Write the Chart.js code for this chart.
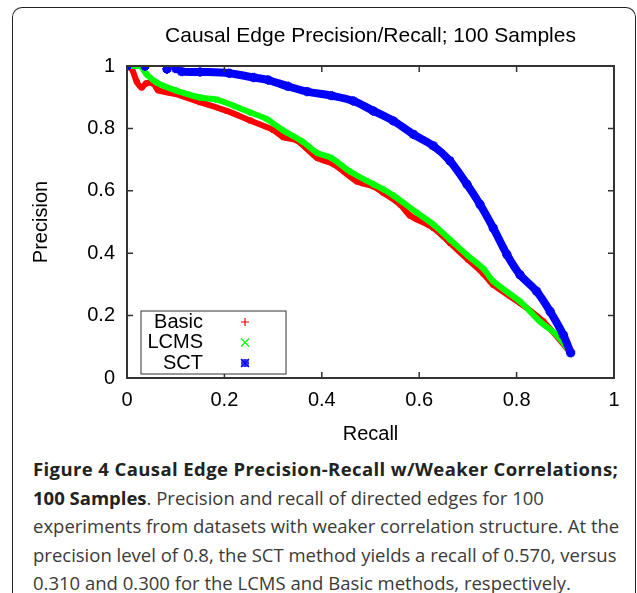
<!DOCTYPE html>
<html>
<head>
<meta charset="utf-8">
<script src="https://cdn.jsdelivr.net/npm/chart.js@4"></script>
<style>
  body { margin: 0; background: #fff; width: 637px; height: 593px; overflow: hidden; position: relative; }
  #frame { position: absolute; left: 12px; top: 7px; width: 622px; height: 600px;
           border: 1.5px solid #222; border-bottom: none; border-radius: 10px 10px 0 0; }
  #wrap { position: absolute; left: 0; top: 0; width: 637px; height: 450px; }
  #caption { position: absolute; left: 33px; top: 455px; font-family: "Open Sans", sans-serif;
             font-size: 18.5px; line-height: 28.5px; color: #3a3a3a; white-space: nowrap; }
  #caption b { color: #222; font-weight: 700; }
  #caption .wide { letter-spacing: 0.4px; }
</style>
</head>
<body>
<div id="frame"></div>
<div id="wrap"><canvas id="chart"></canvas></div>
<div id="caption">
  <b class="wide">Figure 4 Causal Edge Precision-Recall w/Weaker Correlations;</b><br>
  <b>100 Samples</b>. Precision and recall of directed edges for 100<br>
  experiments from datasets with weaker correlation structure. At the<br>
  precision level of 0.8, the SCT method yields a recall of 0.570, versus<br>
  0.310 and 0.300 for the LCMS and Basic methods, respectively.
</div>
<script>
// recall / precision pairs
var basicRecall = [0, 0.01, 0.02, 0.03, 0.04, 0.055, 0.064, 0.10, 0.15, 0.205, 0.253, 0.30, 0.321, 0.348, 0.39, 0.424, 0.472, 0.506, 0.526, 0.561, 0.581, 0.629, 0.663, 0.70, 0.732, 0.752, 0.807, 0.855, 0.911];
var basicPrecision = [1, 0.99, 0.95, 0.931, 0.945, 0.942, 0.922, 0.91, 0.884, 0.856, 0.825, 0.795, 0.772, 0.762, 0.706, 0.685, 0.63, 0.614, 0.594, 0.556, 0.521, 0.481, 0.433, 0.38, 0.334, 0.299, 0.24, 0.181, 0.081];

var lcmsRecall = [0, 0.027, 0.04, 0.061, 0.10, 0.15, 0.184, 0.22, 0.253, 0.287, 0.321, 0.36, 0.39, 0.42, 0.458, 0.506, 0.526, 0.547, 0.595, 0.629, 0.663, 0.70, 0.732, 0.752, 0.807, 0.848, 0.882, 0.911];
var lcmsPrecision = [1, 1, 0.974, 0.947, 0.922, 0.899, 0.892, 0.872, 0.851, 0.83, 0.793, 0.758, 0.722, 0.705, 0.662, 0.621, 0.605, 0.585, 0.53, 0.492, 0.444, 0.392, 0.35, 0.31, 0.245, 0.181, 0.138, 0.081];

var sctRecall = [0, 0.037, 0.082, 0.10, 0.112, 0.15, 0.21, 0.26, 0.29, 0.33, 0.37, 0.42, 0.465, 0.506, 0.547, 0.588, 0.629, 0.663, 0.698, 0.725, 0.752, 0.78, 0.807, 0.841, 0.869, 0.896, 0.911];
var sctPrecision = [1, 1, 0.99, 0.992, 0.982, 0.981, 0.977, 0.963, 0.955, 0.935, 0.918, 0.905, 0.888, 0.856, 0.824, 0.781, 0.744, 0.696, 0.621, 0.556, 0.481, 0.396, 0.331, 0.278, 0.213, 0.138, 0.081];

var axisTicks = [0, 0.2, 0.4, 0.6, 0.8, 1];

function pairs(xs, ys) {
    return xs.map(function (x, i) { return {x: x, y: ys[i]}; });
}

var FONT = "'Liberation Sans', Arial, sans-serif";

// gnuplot style frame with inward ticks on all four sides
var framePlugin = {
    id: "frame",
    afterDraw: function (chart) {
        var ctx = chart.ctx, a = chart.chartArea;
        var xs = chart.scales.x, ys = chart.scales.y;
        ctx.save();
        ctx.strokeStyle = "#333";
        ctx.lineWidth = 1.5;
        axisTicks.forEach(function (t) {
            var px = xs.getPixelForValue(t), py = ys.getPixelForValue(t);
            ctx.beginPath();
            ctx.moveTo(px, a.bottom); ctx.lineTo(px, a.bottom - 6);
            ctx.moveTo(px, a.top); ctx.lineTo(px, a.top + 6);
            ctx.moveTo(a.left, py); ctx.lineTo(a.left + 6, py);
            ctx.moveTo(a.right, py); ctx.lineTo(a.right - 6, py);
            ctx.stroke();
        });
        ctx.lineWidth = 2;
        ctx.strokeRect(a.left, a.top, a.right - a.left, a.bottom - a.top);
        ctx.restore();
    }
};

// title centred over the plot area
var plotTitle = {
    id: "plotTitle",
    afterDraw: function (chart) {
        var ctx = chart.ctx, a = chart.chartArea;
        ctx.save();
        ctx.font = "21px " + FONT;
        ctx.fillStyle = "#000";
        ctx.textAlign = "center";
        ctx.textBaseline = "middle";
        ctx.fillText("Causal Edge Precision/Recall; 100 Samples", (a.left + a.right) / 2, 36);
        ctx.restore();
    }
};

// key box in the lower left: label then point marker
var keyBox = {
    id: "keyBox",
    afterDraw: function (chart) {
        var ctx = chart.ctx, a = chart.chartArea;
        var x0 = a.left + 14, y0 = 311;
        ctx.save();
        ctx.fillStyle = "#fff";
        ctx.fillRect(x0, y0, 145, 63);
        ctx.strokeStyle = "#333";
        ctx.lineWidth = 1;
        ctx.strokeRect(x0, y0, 145, 63);
        ctx.font = "20px " + FONT;
        ctx.textAlign = "right";
        ctx.textBaseline = "middle";
        chart.data.datasets.forEach(function (ds, i) {
            var y = y0 + 11 + i * 20.5;
            ctx.fillStyle = "#000";
            ctx.fillText(ds.label, x0 + 62, y);
            ctx.strokeStyle = ds.borderColor;
            ctx.lineWidth = 1.2;
            var mx = x0 + 104, r = 4;
            ctx.beginPath();
            if (ds.label === "Basic" || ds.label === "SCT") {
                ctx.moveTo(mx - r, y); ctx.lineTo(mx + r, y);
                ctx.moveTo(mx, y - r); ctx.lineTo(mx, y + r);
            }
            if (ds.label === "LCMS" || ds.label === "SCT") {
                ctx.moveTo(mx - r, y - r); ctx.lineTo(mx + r, y + r);
                ctx.moveTo(mx - r, y + r); ctx.lineTo(mx + r, y - r);
            }
            ctx.stroke();
            if (ds.label === "SCT") ctx.strokeRect(mx - 3, y - 3, 6, 6);
        });
        ctx.restore();
    }
};

var ctx = document.getElementById("chart").getContext("2d");
new Chart(ctx, {
    type: "line",
    data: {
        datasets: [
            {
                label: "Basic",
                data: pairs(basicRecall, basicPrecision),
                borderColor: "#ff0000",
                backgroundColor: "#ff0000",
                borderWidth: 6,
                pointStyle: "cross",
                pointRadius: 2,
                order: 2
            },
            {
                label: "LCMS",
                data: pairs(lcmsRecall, lcmsPrecision),
                borderColor: "#00ff00",
                backgroundColor: "#00ff00",
                borderWidth: 6,
                pointStyle: "crossRot",
                pointRadius: 2,
                order: 1
            },
            {
                label: "SCT",
                data: pairs(sctRecall, sctPrecision),
                borderColor: "#0000ff",
                backgroundColor: "#0000ff",
                borderWidth: 8,
                pointStyle: "star",
                pointRadius: 3,
                order: 0,
                segment: {
                    // the first few SCT points are isolated, not a band
                    borderColor: function (c) { return c.p1.parsed.x <= 0.112 ? "rgba(0,0,0,0)" : undefined; }
                }
            }
        ]
    },
    options: {
        responsive: true,
        maintainAspectRatio: false,
        animation: false,
        layout: { padding: { left: 0, right: 23, top: 66, bottom: 0 } },
        plugins: { legend: { display: false }, tooltip: { enabled: false } },
        elements: { line: { tension: 0.3, borderCapStyle: "round", borderJoinStyle: "round" } },
        scales: {
            x: {
                type: "linear",
                min: 0,
                max: 1,
                afterBuildTicks: function (s) { s.ticks = axisTicks.map(function (v) { return {value: v}; }); },
                afterFit: function (s) { s.height = 72; },
                grid: { display: false, drawTicks: false },
                border: { display: false },
                ticks: { padding: 10, color: "#000", font: { family: FONT, size: 20 }, maxRotation: 0,
                         callback: function (v) { return String(v); } },
                title: { display: true, text: "Recall", color: "#000", font: { family: FONT, size: 20 },
                         padding: { top: 0, bottom: 4 } }
            },
            y: {
                type: "linear",
                min: 0,
                max: 1,
                afterBuildTicks: function (s) { s.ticks = axisTicks.map(function (v) { return {value: v}; }); },
                afterFit: function (s) { s.width = 127; },
                grid: { display: false, drawTicks: false },
                border: { display: false },
                ticks: { padding: 12, color: "#000", font: { family: FONT, size: 20 },
                         callback: function (v) { return String(v); } },
                title: { display: true, text: "Precision", color: "#000", font: { family: FONT, size: 20 },
                         padding: { top: 29, bottom: 0 } }
            }
        }
    },
    plugins: [framePlugin, plotTitle, keyBox]
});
</script>
</body>
</html>
